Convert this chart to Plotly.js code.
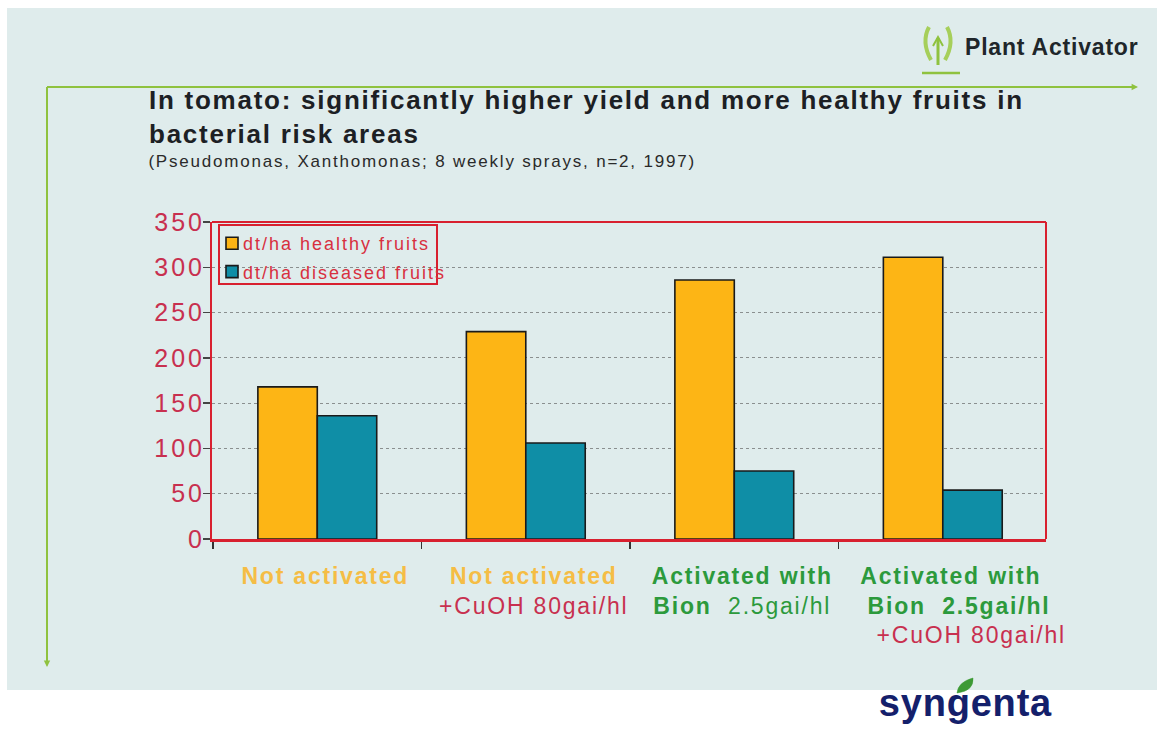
<!DOCTYPE html>
<html>
<head>
<meta charset="utf-8">
<script src="https://cdn.plot.ly/plotly-3.0.1.min.js"></script>
<style>
html,body{margin:0;padding:0;background:#fff;overflow:hidden}
#chart{width:1157px;height:745px}
.legendtext{letter-spacing:2px;transform:translateX(-9px)}
.ytick text{letter-spacing:3px}
.xtick text{letter-spacing:1.8px}
.gtitle{letter-spacing:1.75px}
.annotation[data-index="0"] text{letter-spacing:1.8px}
.annotation[data-index="1"] text{letter-spacing:.8px}
.annotation[data-index="2"] text{letter-spacing:.8px}
</style>
</head>
<body>
<div id="chart"></div>
<script>
const categories = [
  '<span style="color:#f5bd45;font-weight:bold">Not activated</span>',
  '<span style="color:#f5bd45;font-weight:bold">Not activated</span><br><span style="color:#c8304f">+CuOH 80gai/hl</span>',
  '<span style="color:#2c9a3c;font-weight:bold">Activated with</span><br><span style="color:#2c9a3c"><b>Bion</b>  2.5gai/hl</span>',
  '<span style="color:#2c9a3c;font-weight:bold">Activated with</span><br><span style="color:#2c9a3c;font-weight:bold">\u00A0\u00A0Bion  2.5gai/hl</span><br><span style="color:#c8304f">\u00A0\u00A0\u00A0\u00A0\u00A0+CuOH 80gai/hl</span>'
];
const healthy = [168, 229, 286, 311];
const diseased = [136, 106, 75, 54];
const healthyName = 'dt/ha healthy fruits';
const diseasedName = 'dt/ha diseased fruits';
const yTicks = [0, 50, 100, 150, 200, 250, 300, 350];

const W = 1157, H = 745, L = 212, R = 1046, T = 222, B = 539;
const px = x => (x - L) / (R - L);
const py = y => (B - y) / (B - T);
const P = (x, y) => px(x) + ',' + py(y);
const rect = (x0, y0, x1, y1, fill, line, lw, layer) => ({
  type: 'rect', xref: 'paper', yref: 'paper', x0: px(x0), x1: px(x1), y0: py(y0), y1: py(y1),
  fillcolor: fill, line: {color: line, width: lw || 0}, layer: layer || 'below'
});
const seg = (x0, y0, x1, y1, c, w) => ({
  type: 'line', xref: 'paper', yref: 'paper', x0: px(x0), x1: px(x1), y0: py(y0), y1: py(y1),
  line: {color: c, width: w}, layer: 'above'
});
const path = (d, fill, line, w) => ({
  type: 'path', xref: 'paper', yref: 'paper', path: d,
  fillcolor: fill, line: {color: line, width: w}, layer: 'above'
});
const note = (x, y, text, size, color, bold, anchor) => ({
  xref: 'paper', yref: 'paper', x: px(x), y: py(y), text: bold ? '<b>' + text + '</b>' : text,
  showarrow: false, xanchor: anchor || 'left', yanchor: 'middle',
  font: {family: 'Liberation Sans, Arial, sans-serif', size, color}
});
const arrowNote = (x0, y0, x1, y1) => ({
  xref: 'paper', yref: 'paper', axref: 'paper', ayref: 'paper',
  x: px(x1), y: py(y1), ax: px(x0), ay: py(y0), text: '', showarrow: true,
  arrowhead: 2, arrowsize: 0.8, arrowwidth: 1.6, arrowcolor: '#8fc23f'
});

const traces = [
  {type: 'bar', name: healthyName, x: categories, y: healthy, legendgroup: 'a',
   marker: {color: '#fdb515', line: {color: '#1a1a1a', width: 1.6}}},
  {type: 'bar', name: diseasedName, x: categories, y: diseased, legendgroup: 'b',
   marker: {color: '#0f8ea6', line: {color: '#1a1a1a', width: 1.6}}}
];

const layout = {
  width: W, height: H, autosize: false,
  margin: {l: L, r: W - R, t: T, b: H - B, pad: 0},
  paper_bgcolor: '#ffffff', plot_bgcolor: 'rgba(0,0,0,0)',
  barmode: 'group', bargap: 0.43, bargroupgap: 0,
  font: {family: 'Liberation Sans, Arial, sans-serif'},
  title: {
    text: '<b>In tomato: significantly higher yield and more healthy fruits in<br>bacterial risk areas</b>',
    x: 149 / W, xanchor: 'left', xref: 'container', y: 1 - 109 / H, yanchor: 'top', yref: 'container',
    font: {family: 'Liberation Sans, Arial, sans-serif', size: 26, color: '#1c2024'}
  },
  xaxis: {
    type: 'category', tickson: 'boundaries', ticks: 'outside', ticklen: 7, tickcolor: '#333', tickwidth: 1.5,
    showline: true, linecolor: '#d8202f', linewidth: 3, mirror: false, showgrid: false, zeroline: false,
    tickfont: {family: 'Liberation Sans, Arial, sans-serif', size: 23}, tickangle: 0, automargin: false,
    ticklabelstandoff: 14, ticklabelshift: 8,
    range: [-0.505, 3.495], fixedrange: true
  },
  yaxis: {
    range: [0, 350], tickvals: yTicks, ticktext: yTicks.map(String),
    ticks: 'outside', ticklen: 7, tickcolor: '#444', tickwidth: 1.5,
    showline: true, linecolor: '#d8202f', linewidth: 2,
    showgrid: true, gridcolor: '#8a8f8f', gridwidth: 1, griddash: 'dot', zeroline: false,
    tickfont: {family: 'Liberation Sans, Arial, sans-serif', size: 25, color: '#c8304f'},
    ticklabelstandoff: -7,
    automargin: false, fixedrange: true
  },
  showlegend: true,
  legend: {
    x: px(212), xanchor: 'left', y: py(225), yanchor: 'top', orientation: 'v',
    bgcolor: 'rgba(0,0,0,0)', borderwidth: 0, traceorder: 'grouped', tracegroupgap: 2,
    font: {family: 'Liberation Sans, Arial, sans-serif', size: 18, color: '#d8303f'}
  },
  shapes: [
    rect(7, 8, 1157, 690, '#dfecec', '#dfecec', 0),
    seg(212, 222, 1046, 222, '#d8202f', 2),
    seg(1046, 222, 1046, 539, '#d8202f', 2),
    rect(219, 225, 437, 284, 'rgba(0,0,0,0)', '#d8202f', 2, 'above'),
    seg(47, 87, 1135, 87, '#8fc23f', 2),
    seg(47, 87, 47, 663, '#8fc23f', 2),
    path('M ' + P(929, 27) + ' Q ' + P(921, 42) + ' ' + P(931, 60), 'rgba(0,0,0,0)', '#a6cf5a', 4),
    path('M ' + P(947, 27) + ' Q ' + P(955, 42) + ' ' + P(945, 60), 'rgba(0,0,0,0)', '#a6cf5a', 4),
    path('M ' + P(938, 65) + ' L ' + P(938, 38), 'rgba(0,0,0,0)', '#8fc23f', 3),
    path('M ' + P(933, 46) + ' L ' + P(938, 37) + ' L ' + P(943, 46), 'rgba(0,0,0,0)', '#8fc23f', 2),
    seg(922, 73, 960, 73, '#8fc23f', 2.5),
    path('M ' + P(957, 693) + ' Q ' + P(958, 682) + ' ' + P(973, 678) + ' Q ' + P(974, 691) + ' ' + P(957, 693) + ' Z', '#3d9a35', '#3d9a35', 0.5)
  ],
  annotations: [
    note(195, 161, '(Pseudomonas, Xanthomonas; 8 weekly sprays, n=2, 1997)', 17, '#2a2a2a', false),
    note(969, 47, 'Plant Activator', 23, '#20262a', true),
    note(880, 703, 'syngenta', 38, '#14206b', true),
    arrowNote(1120, 87, 1138, 87),
    arrowNote(47, 650, 47, 667)
  ]
};

Plotly.newPlot('chart', traces, layout, {displayModeBar: false, staticPlot: true});
</script>
</body>
</html>
